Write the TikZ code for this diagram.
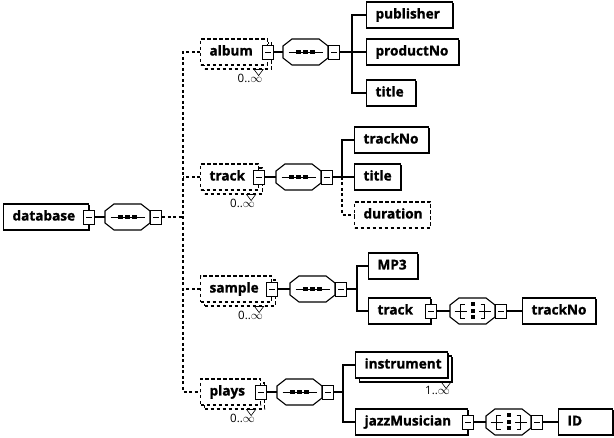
\documentclass[tikz,border=0pt]{standalone}
\usepackage{fontspec}
\setmainfont{Open Sans}
\newfontfamily\boxfont[FakeBold=1.2]{Open Sans Bold}
\usetikzlibrary{shadows,calc}
\hyphenpenalty=10000
\exhyphenpenalty=10000
\newcommand\multlab[4]{% #1 box, #2 label name, #3 text, #4 triangle centre offset from south east
  \draw[line width=0.6pt] ([xshift=#4-4.5pt]#1.south east) -- ([xshift=#4+4.5pt]#1.south east) -- ([xshift=#4,yshift=-6pt]#1.south east) -- cycle;
  \node[mult,anchor=north east] (#2) at ([xshift=#4+5pt,yshift=-3pt]#1.south east) {#3};
}
\newcommand\octat[3]{% #1 name, #2 centre, #3 icon style
  \draw[octl] (#2) ++(-22.5,-6) -- ++(9,-7) -- ++(27,0) -- ++(9,7) -- ++(0,12) -- ++(-9,7) -- ++(-27,0) -- ++(-9,-7) -- cycle;
  \node[#3] (#1) at (#2) {};
}
\begin{document}
\begin{tikzpicture}[x=1pt,y=-1pt,
  boxbase/.style={draw,line width=1.1pt,fill=white,font=\fontsize{13.6}{14}\boxfont,
    inner xsep=9pt,inner ysep=0pt,minimum height=26pt,anchor=west,align=left,
    text height=10pt,text depth=3pt},
  el/.style={boxbase,drop shadow={shadow xshift=1.3pt,shadow yshift=-1.3pt,opacity=1,fill=black}},
  opt/.style={boxbase,dash pattern=on 3.5pt off 2.5pt},
  mn/.style={draw,fill=white,line width=0.8pt,minimum width=11pt,minimum height=14pt,inner sep=0pt,
    path picture={\draw[line width=0.8pt] ([xshift=-3pt]path picture bounding box.center) -- ([xshift=3pt]path picture bounding box.center);}},
  octl/.style={draw,line width=1.1pt,fill=white},
  octbase/.style={rectangle,minimum width=45pt,minimum height=26pt,inner sep=0pt},
  seq/.style={octbase,path picture={
    \draw[line width=0.9pt] ([xshift=-17pt]path picture bounding box.center) -- ([xshift=17pt]path picture bounding box.center);
    \foreach \dx in {-7,0,7} \fill[black] ([xshift=\dx pt-2.3pt,yshift=-2pt]path picture bounding box.center) rectangle +(4.6pt,4pt);}},
  cho/.style={octbase,path picture={
    \coordinate (ppc) at (path picture bounding box.center);
    \draw[line width=0.8pt] ([xshift=-18pt]ppc) -- ([xshift=-6pt]ppc)
      ([xshift=-8pt,yshift=7pt]ppc) -- ([xshift=-12pt,yshift=7pt]ppc) -- ([xshift=-12pt,yshift=-7pt]ppc) -- ([xshift=-8pt,yshift=-7pt]ppc)
      ([xshift=18pt]ppc) -- ([xshift=6pt]ppc)
      ([xshift=8pt,yshift=7pt]ppc) -- ([xshift=12pt,yshift=7pt]ppc) -- ([xshift=12pt,yshift=-7pt]ppc) -- ([xshift=8pt,yshift=-7pt]ppc);
    \foreach \dy in {-6.5,0,6.5} \fill[black] ([xshift=-2pt,yshift=\dy pt-2pt]ppc) rectangle +(4pt,4pt);}},
  mult/.style={font=\fontsize{11.5}{12}\selectfont,inner sep=1pt},
  con/.style={line width=1.1pt},
  dl/.style={con,dash pattern=on 3pt off 2.5pt}]
\useasboundingbox (0,0) rectangle (614,438);

% database
\node[el,text width=67pt] (db) at (3,217) {database};
\node[mn] (dbm) at (db.east) {};
\octat{dbs}{127.5,217}{seq}
\node[mn,anchor=west] (dbsm) at (dbs.east) {};
\coordinate (spine) at (183,217);

% album
\node[opt,text width=49pt] (albB) at (204,56) {};
\node[opt,text width=49pt] (alb) at (200,52) {album};
\node[mn] (albm) at (alb.east) {};
\multlab{albB}{albl}{0..$\infty$}{-13.5pt}
\octat{albs}{305.5,52}{seq}
\node[mn,anchor=west] (albsm) at (albs.east) {};
\node[el,text width=68pt] (pub) at (366,15) {publisher};
\node[el,text width=74pt] (pno) at (366,52) {productNo};
\node[el,text width=31pt] (tit) at (366,93) {title};

% track
\node[opt,text width=40pt] (trkB) at (204,181) {};
\node[opt,text width=40pt] (trk) at (200,177) {track};
\node[mn] (trkm) at (trk.east) {};
\multlab{trkB}{trkl}{0..$\infty$}{-12pt}
\octat{trks}{298.5,177}{seq}
\node[mn,anchor=west] (trksm) at (trks.east) {};
\node[el,text width=56pt] (tno) at (354,140) {trackNo};
\node[el,text width=28pt] (tt2) at (354,177) {title};
\node[opt,text width=58pt] (dur) at (354,215) {duration};

% sample
\node[opt,text width=53pt] (smpB) at (204,293) {};
\node[opt,text width=53pt] (smp) at (200,289) {sample};
\node[mn] (smpm) at (smp.east) {};
\multlab{smpB}{smpl}{0..$\infty$}{-17pt}
\octat{smps}{312.5,289}{seq}
\node[mn,anchor=west] (smpsm) at (smps.east) {};
\coordinate (smpj) at (357,289);
\node[el,text width=31pt] (mp3) at (368,266) {MP3};
\node[el,text width=44pt] (trk2) at (368,311) {track};
\node[mn] (trk2m) at (trk2.east) {};
\octat{trk2c}{472.5,311}{cho}
\node[mn,anchor=west] (trk2cm) at (trk2c.east) {};
\node[el,text width=55pt] (tno2) at (522,311) {trackNo};

% plays
\node[opt,text width=42pt] (plyB) at (204,396) {};
\node[opt,text width=42pt] (ply) at (200,392) {plays};
\node[mn] (plym) at (ply.east) {};
\multlab{plyB}{plyl}{0..$\infty$}{-14pt}
\octat{plys}{299.5,392}{seq}
\node[mn,anchor=west] (plysm) at (plys.east) {};
\coordinate (plyj) at (343,392);
\node[el,text width=74pt] (insB) at (359,369) {};
\node[el,text width=74pt] (ins) at (355,365) {instrument};
\multlab{insB}{insl}{1..$\infty$}{-6pt}
\node[el,text width=94pt] (jaz) at (355,422) {jazzMusician};
\node[mn] (jazm) at (jaz.east) {};
\octat{jazc}{508.5,422}{cho}
\node[mn,anchor=west] (jazcm) at (jazc.east) {};
\node[el,text width=36pt] (id) at (558,422) {ID};

% connectors
\draw[con] (dbm.east) -- (dbs.west);
\draw[dl] (dbsm.east) -- (spine);
\draw[dl] (alb.west) -| (spine) |- (ply.west);
\draw[dl] (trk.west) -- (trk.west -| spine);
\draw[dl] (smp.west) -- (smp.west -| spine);

\draw[con] (albm.east) -- (albs.west);
\draw[con] (albsm.east) -- (pno.west);
\draw[con] (pub.west) -- ++(-14,0) |- (tit.west);

\draw[con] (trkm.east) -- (trks.west);
\draw[con] (trksm.east) -- (tt2.west);
\draw[con] (tno.west) -- ++(-12,0) |- (tt2.west);
\draw[dl] ([xshift=-12pt]tt2.west) |- (dur.west);

\draw[con] (smpm.east) -- (smps.west);
\draw[con] (smpsm.east) -- (smpj);
\draw[con] (mp3.west) -| (smpj) |- (trk2.west);
\draw[con] (trk2m.east) -- (trk2c.west);
\draw[con] (trk2cm.east) -- (tno2.west);

\draw[con] (plym.east) -- (plys.west);
\draw[con] (plysm.east) -- (plyj);
\draw[con] (ins.west) -| (plyj) |- (jaz.west);
\draw[con] (jazm.east) -- (jazc.west);
\draw[con] (jazcm.east) -- (id.west);
\end{tikzpicture}
\end{document}
